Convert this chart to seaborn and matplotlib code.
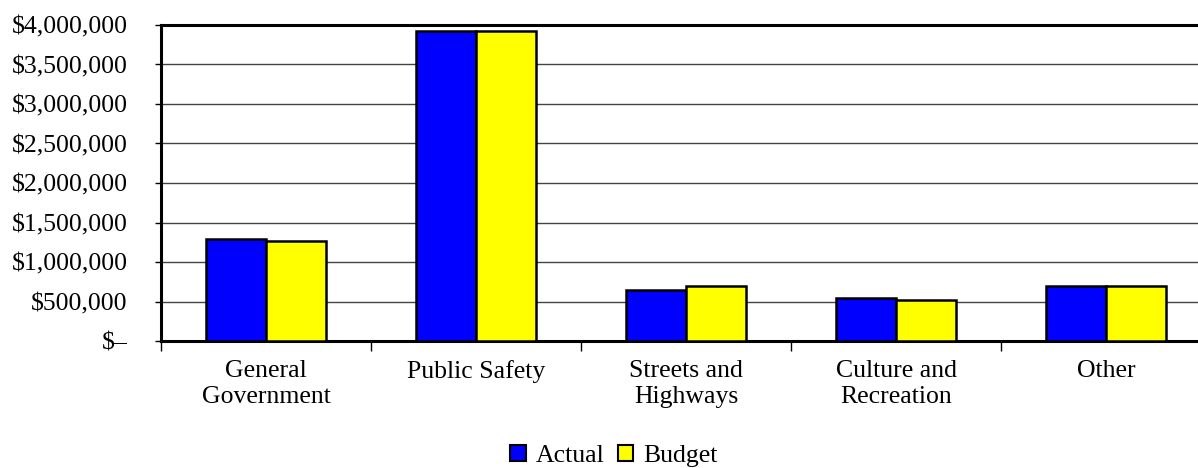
import matplotlib
matplotlib.use("Agg")
import matplotlib.pyplot as plt
import seaborn as sns
import pandas as pd
from matplotlib.ticker import FuncFormatter, FixedLocator
from matplotlib.patches import Patch

categories = ["General\nGovernment", "Public Safety", "Streets and\nHighways",
              "Culture and\nRecreation", "Other"]
actual = [1285000, 3920000, 650000, 547000, 701000]
budget = [1260000, 3920000, 701000, 522000, 701000]
series = ["Actual", "Budget"]
colors = {"Actual": "#0000FF", "Budget": "#FFFF00"}
yticks = [0, 500000, 1000000, 1500000, 2000000, 2500000, 3000000, 3500000, 4000000]

df = pd.DataFrame({
    "category": categories * 2,
    "value": actual + budget,
    "series": [series[0]] * len(categories) + [series[1]] * len(categories),
})

sns.set_style("white")
plt.rcParams["font.family"] = ["Liberation Serif", "DejaVu Serif"]
plt.rcParams["text.color"] = "black"
plt.rcParams["xtick.color"] = "black"
plt.rcParams["ytick.color"] = "black"

FS = 18.5

fig = plt.figure(figsize=(11.98, 4.68), dpi=100)
ax = fig.add_axes([161 / 1198, 1 - 341 / 468, (1211 - 161) / 1198, (341 - 25) / 468])

sns.barplot(data=df, x="category", y="value", hue="series", palette=colors,
            saturation=1, width=0.567, edgecolor="black", linewidth=1.8, ax=ax,
            legend=False, zorder=3)

ax.set_xlim(-0.5, 4.5)
ax.set_ylim(0, 4000000)
ax.yaxis.set_major_locator(FixedLocator(yticks))

def fmt(v, pos):
    if v == 0:
        return "$\u2013"
    return "${:,.0f}".format(v)

ax.yaxis.set_major_formatter(FuncFormatter(fmt))
ax.grid(axis="y", color="#444444", linewidth=1.0, zorder=0)
ax.set_axisbelow(True)

ax.set_xlabel("")
ax.set_ylabel("")
ax.tick_params(axis="y", labelsize=FS, length=4, width=1, color="black",
               labelcolor="black", pad=20, left=True)
ax.tick_params(axis="x", which="major", labelsize=FS, length=0, pad=14,
               labelcolor="black")
ax.set_xticks([i - 0.5 for i in range(6)], minor=True)
ax.tick_params(axis="x", which="minor", length=7, width=1, color="black",
               bottom=True)

for s in ["left", "bottom", "top"]:
    ax.spines[s].set_visible(True)
    ax.spines[s].set_color("black")
ax.spines["left"].set_linewidth(2.2)
ax.spines["bottom"].set_linewidth(2.2)
ax.spines["top"].set_linewidth(2.2)
ax.spines["right"].set_visible(False)

handles = [Patch(facecolor=colors[s], edgecolor="black", linewidth=1.5, label=s)
           for s in series]
fig.legend(handles=handles, loc="lower center", bbox_to_anchor=(0.5125, -0.048),
           ncol=2, frameon=False, fontsize=FS, handlelength=0.6,
           handleheight=0.6, handletextpad=0.4, columnspacing=0.5)

fig.savefig("out.png", dpi=100)
